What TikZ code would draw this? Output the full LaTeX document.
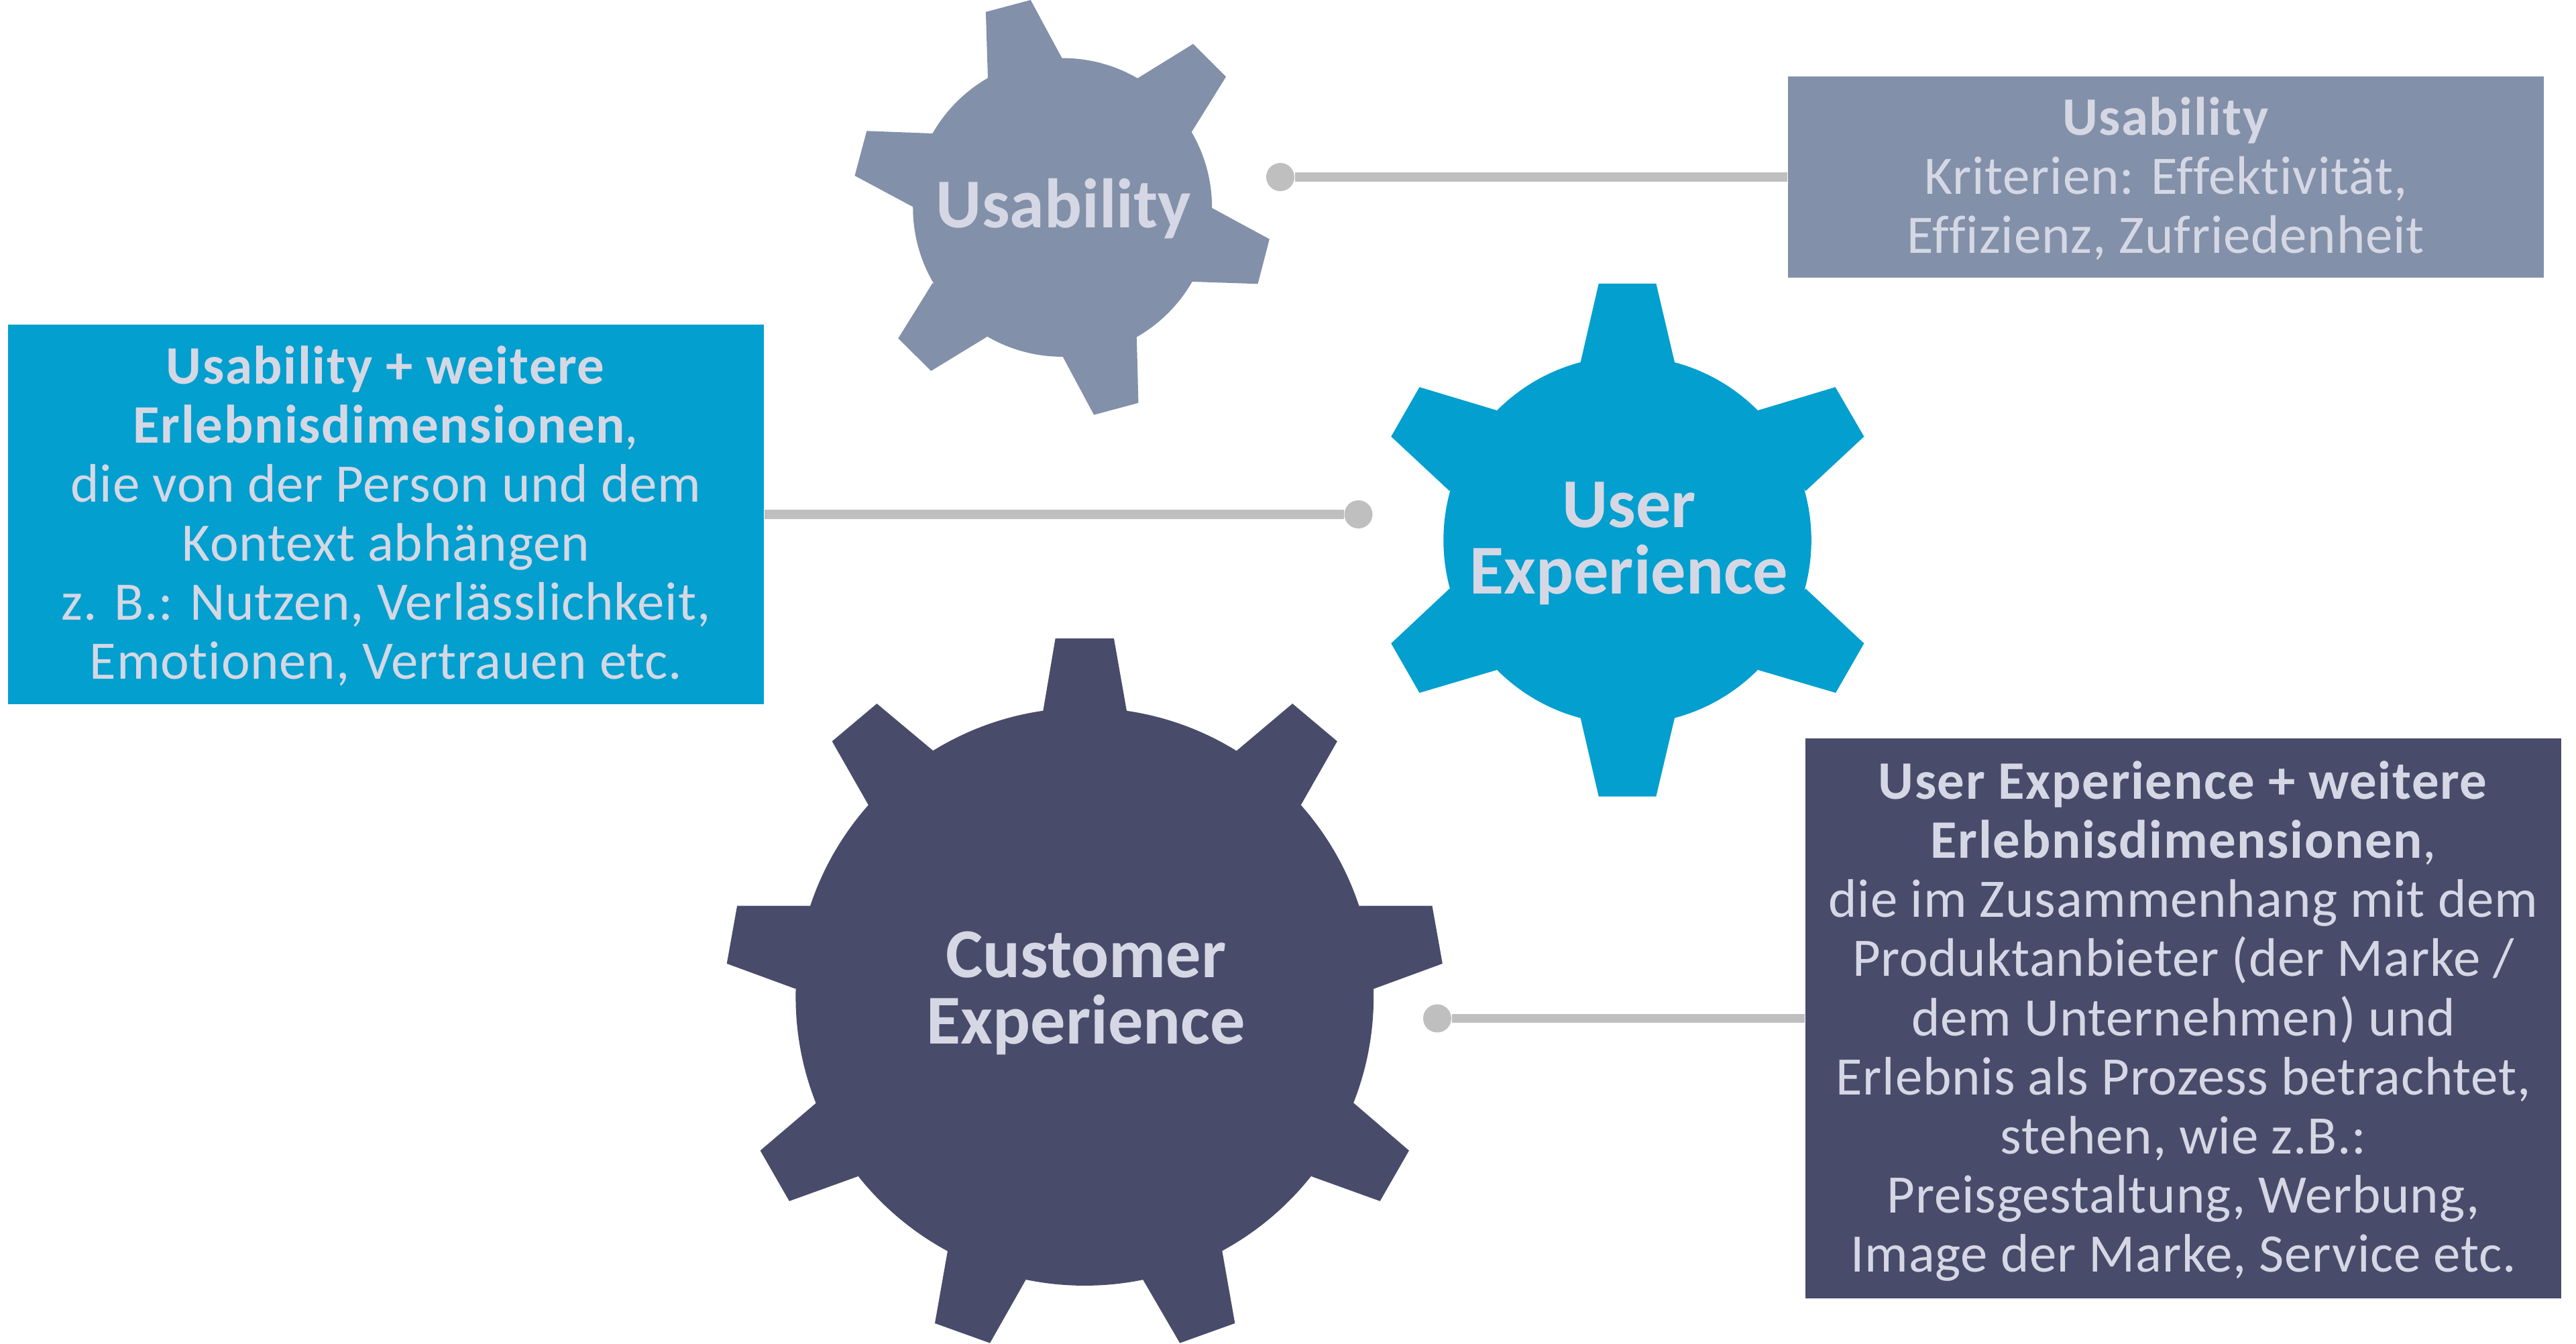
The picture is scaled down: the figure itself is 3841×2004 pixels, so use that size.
\documentclass[tikz,border=0pt]{standalone}
\usepackage{fontspec}
\setmainfont[LetterSpace=1.0,Ligatures=NoCommon,BoldFeatures={LetterSpace=2.0}]{Carlito}
\newfontfamily\gearfont[Ligatures=NoCommon]{Carlito}
\definecolor{cusab}{HTML}{8290A9}
\definecolor{cux}{HTML}{029FCF}
\definecolor{ccx}{HTML}{484B6A}
\definecolor{ctxt}{HTML}{D5D8E4}
\definecolor{cline}{HTML}{BFBFBF}
\newcommand{\boxstrut}{\rule[-5.26pt]{0pt}{25.04pt}}
\newcommand{\gearstrut}{\rule[-4.69pt]{0pt}{28.17pt}}
\tikzset{
  boxfont/.style={font=\fontsize{23}{25.04}\selectfont},
  infobox/.style={boxfont, text=ctxt, inner sep=0pt, align=center, anchor=center},
  gearlabel/.style={font=\gearfont\bfseries\fontsize{29.7}{28.17}\selectfont, text=ctxt, inner sep=0pt, align=center},
  dotnode/.style={circle, fill=cline, inner sep=0pt, minimum size=11.95pt},
  connector/.style={draw=cline, line width=3.98pt}
}
\begin{document}
\begin{tikzpicture}[x=0.01cm,y=-0.01cm]
\useasboundingbox (0,0) rectangle (3841,2004);
% Usability gear
\begin{scope}[shift={(1200,0)},xscale=0.5102,yscale=0.4146]
\fill[cusab] (753,746) ellipse [x radius=437, y radius=537];
\fill[cusab]
 (535,281)--(529,43)--(660,0)--(752,210)--cycle
 (972,282)--(1135,158)--(1231,276)--(1130,476)--cycle
 (1190,748)--(1358,860)--(1324,1021)--(1132,1013)--cycle
 (970,1212)--(975,1449)--(845,1492)--(754,1283)--cycle
 (533,1211)--(369,1334)--(273,1217)--(374,1017)--cycle
 (316,744)--(146,632)--(181,471)--(373,480)--cycle;
\end{scope}
% User Experience gear
\begin{scope}[shift={(2000,400)},scale=0.542]
\fill[cux] (787,748) circle [radius=506];
\fill[cux]
 (658,259)--(708,42)--(866,42)--(917,259)--cycle
 (1146,391)--(1359,327)--(1438,463)--(1277,613)--cycle
 (1277,881)--(1438,1032)--(1360,1168)--(1146,1105)--cycle
 (917,1237)--(866,1453)--(708,1453)--(658,1237)--cycle
 (428,1105)--(215,1168)--(137,1032)--(298,881)--cycle
 (298,613)--(137,463)--(215,327)--(428,391)--cycle;
\end{scope}
% Customer Experience gear
\begin{scope}[shift={(1050,930)},xscale=0.7334,yscale=0.6849]
\fill[ccx] (773.5,812) ellipse [x radius=587.5, y radius=629];
\fill[ccx]
 (689,190)--(714,32)--(833,32)--(859,190)--cycle
 (1082,277)--(1196,174)--(1287,256)--(1213,395)--cycle
 (1331,614)--(1480,614)--(1501,740)--(1361,795)--cycle
 (1320,1043)--(1433,1147)--(1374,1257)--(1234,1203)--cycle
 (1053,1365)--(1079,1523)--(967,1566)--(892,1428)--cycle
 (654,1428)--(581,1566)--(469,1523)--(495,1365)--cycle
 (313,1203)--(173,1257)--(114,1147)--(228,1043)--cycle
 (186,795)--(46,740)--(67,614)--(216,614)--cycle
 (334,395)--(260,256)--(351,174)--(466,277)--cycle;
\end{scope}
% Gear labels
\node[gearlabel] (g1) at (1586,306) {\gearstrut Usability};
\node[gearlabel] (g2) at (2429,802.5) {\gearstrut User\\\gearstrut Experience};
\node[gearlabel] (g3) at (1619.5,1473.5) {\gearstrut Customer\\\gearstrut Experience};
% Text boxes
\node[infobox, fill=cusab, minimum width=320.66pt, minimum height=85.35pt] (b1) at (3229.5,264)
 {\boxstrut\textbf{Usability}\\Kriterien: Effektivität,\\\boxstrut Effizienz, Zufriedenheit};
\node[infobox, fill=cux, minimum width=320.66pt, minimum height=161.02pt] (b2) at (575.5,767)
 {\boxstrut\textbf{Usability + weitere}\\\textbf{Erlebnisdimensionen},\\die von der Person und dem\\Kontext abhängen\\z. B.: Nutzen, Verlässlichkeit,\\\boxstrut Emotionen, Vertrauen etc.};
\node[infobox, fill=ccx, minimum width=320.66pt, minimum height=237.26pt] (b3) at (3255.5,1518.5)
 {\boxstrut\textbf{User Experience + weitere}\\\textbf{Erlebnisdimensionen},\\die im Zusammenhang mit dem\\Produktanbieter (der Marke /\\dem Unternehmen) und\\Erlebnis als Prozess betrachtet,\\stehen, wie z.B.:\\Preisgestaltung, Werbung,\\\boxstrut Image der Marke, Service etc.};
% Connector dots
\node[dotnode] (d1) at (1909,264) {};
\node[dotnode] (d2) at (2025.5,767) {};
\node[dotnode] (d3) at (2143,1518.5) {};
% Connectors
\draw[connector] (b1) -- (d1);
\draw[connector] (b2) -- (d2);
\draw[connector] (b3) -- (d3);
\end{tikzpicture}
\end{document}
